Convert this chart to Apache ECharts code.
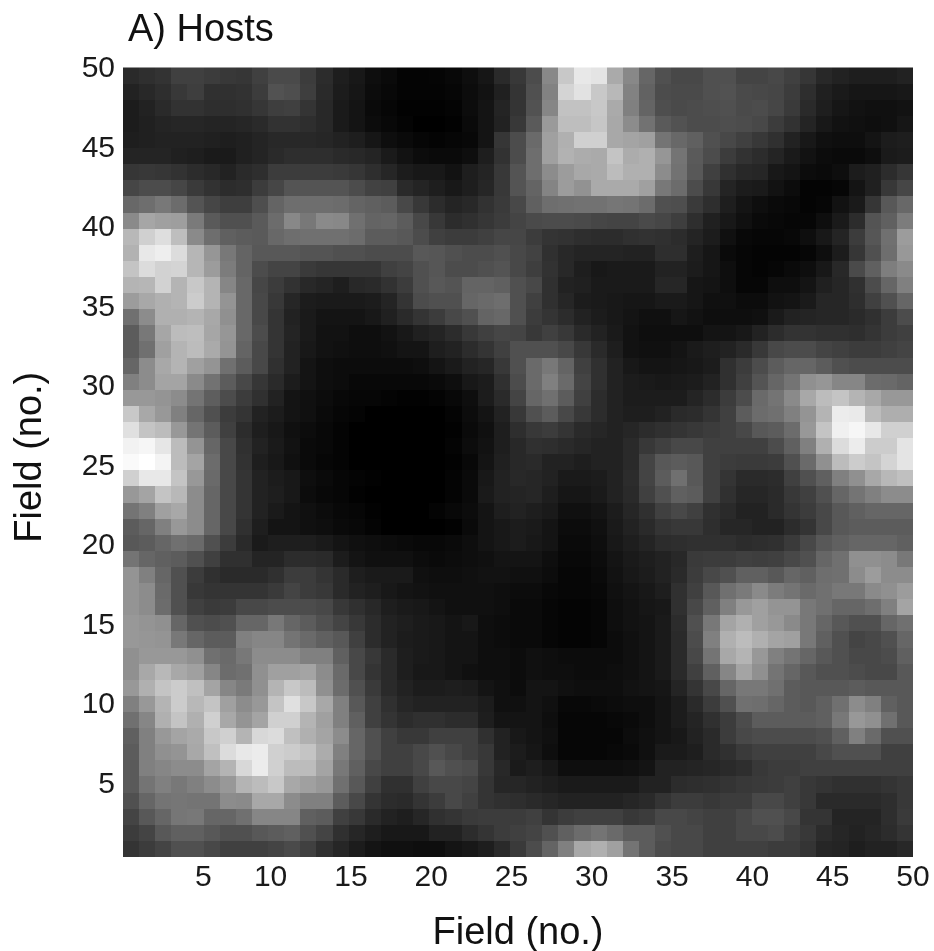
<!DOCTYPE html>
<html><head><meta charset="utf-8">
<style>html,body{margin:0;padding:0;background:#fff}#c{width:934px;height:951px;filter:blur(0.6px)}</style>
<script src="https://cdn.jsdelivr.net/npm/echarts@6/dist/echarts.min.js"></script>
</head><body><div id="c"></div>
<script>
const titleText = 'A) Hosts';
const axisName = 'Field (no.)';
const tickValues = [5,10,15,20,25,30,35,40,45,50];
// gray level of every cell, top row first, left column first
const hosts = [
[42,47,51,64,64,60,56,54,64,74,74,60,44,30,24,14,10,4,4,5,8,14,22,42,56,76,136,200,232,228,170,136,102,80,72,72,80,80,68,68,72,64,54,40,34,30,30,30,34],
[34,40,46,56,62,48,48,50,60,82,78,62,42,28,22,12,8,4,4,4,6,12,18,32,52,80,130,212,226,200,184,130,98,76,74,74,80,82,74,72,70,60,46,32,26,22,22,22,24],
[28,34,42,50,50,46,46,48,54,62,64,52,40,26,20,10,6,2,2,2,4,12,20,36,52,82,134,194,194,200,170,128,100,78,74,76,78,80,74,76,70,58,42,30,22,18,16,16,18],
[28,32,36,38,38,36,36,38,42,50,50,46,40,26,20,12,8,4,0,0,2,10,20,34,56,90,154,190,190,198,168,140,114,90,82,76,76,78,76,72,60,50,36,24,18,16,14,16,22],
[30,32,34,34,34,32,30,32,36,40,40,40,38,34,30,22,14,10,6,4,6,8,20,54,76,106,160,176,208,208,168,164,160,116,104,96,80,72,64,56,48,34,24,16,14,14,20,28,30],
[36,36,36,32,30,26,26,32,36,42,46,46,46,42,40,36,26,18,12,10,10,14,30,50,76,110,160,178,172,170,196,172,176,150,116,90,76,60,50,44,36,26,18,12,10,10,14,26,28],
[54,56,54,50,44,40,34,42,46,60,60,60,60,58,54,46,38,28,24,24,18,30,36,56,84,110,140,156,168,170,188,176,176,140,114,88,64,48,40,38,24,20,12,10,14,28,32,44,54],
[70,76,76,70,58,50,44,46,60,70,84,84,84,84,76,66,64,42,36,30,24,30,38,56,84,100,132,156,146,170,170,170,160,120,108,76,56,36,28,26,18,12,4,4,6,20,32,56,70],
[104,110,120,108,84,70,62,62,78,100,110,110,110,108,100,96,92,72,56,44,36,40,50,58,72,96,110,112,114,114,118,116,108,80,78,58,46,30,20,14,10,8,4,6,18,26,54,88,104],
[138,166,160,158,122,90,80,80,90,108,136,120,138,136,112,100,102,92,72,56,44,48,54,60,68,74,76,76,74,70,68,68,74,70,62,46,32,24,16,10,8,6,6,14,26,44,84,96,124],
[184,208,222,190,138,110,96,92,90,104,110,112,112,112,108,92,92,88,76,64,60,60,64,70,70,60,52,50,46,44,44,48,50,48,44,36,28,16,8,6,6,8,14,24,36,60,86,112,156],
[178,232,238,220,182,150,120,100,88,88,88,84,84,80,80,76,76,76,88,86,80,76,76,80,72,66,48,40,36,36,36,34,34,46,46,30,22,10,6,4,4,4,6,14,28,54,80,110,152],
[196,220,210,212,182,156,124,100,76,68,68,58,54,54,54,54,64,68,80,86,76,76,80,84,72,62,50,40,30,24,26,26,26,34,34,28,22,14,6,4,6,10,14,24,40,74,96,126,138],
[180,182,210,180,200,180,134,104,70,60,50,40,36,30,40,42,50,60,80,88,84,100,100,96,80,72,48,34,32,26,26,26,26,38,38,22,20,14,6,6,14,14,20,32,38,48,76,102,128],
[156,168,176,180,204,180,148,104,72,56,38,28,26,26,26,28,36,52,76,80,80,102,106,110,80,64,48,38,28,26,24,22,22,26,26,22,16,16,12,12,18,20,26,38,38,46,64,80,102],
[112,140,176,176,180,168,144,104,72,52,34,26,20,20,20,24,32,42,52,60,72,80,100,104,80,60,52,44,34,28,24,20,16,16,22,18,14,14,14,16,26,34,36,38,38,42,48,60,76],
[92,120,166,188,190,166,150,104,76,52,36,26,18,18,14,14,18,24,32,36,44,56,64,70,68,56,64,56,42,34,26,18,14,14,14,14,20,20,24,34,44,51,51,48,48,46,52,60,64],
[92,112,160,180,188,170,148,100,72,52,34,24,18,16,14,14,16,20,20,30,34,44,52,64,80,80,80,72,56,42,30,18,16,16,20,26,30,34,42,56,72,76,76,68,64,60,60,64,68],
[102,140,168,180,160,148,112,92,72,48,34,20,14,12,12,12,12,12,14,20,26,34,38,56,80,106,120,100,64,48,34,24,20,20,22,24,28,48,60,76,92,102,102,92,80,76,76,76,76],
[128,140,164,164,138,114,92,72,54,42,28,20,14,12,8,8,8,8,8,10,14,24,28,48,76,106,128,106,68,48,34,28,26,24,26,28,34,48,64,84,102,116,144,150,134,134,108,106,100],
[152,152,148,140,116,94,76,60,48,34,20,16,12,8,6,6,4,2,2,4,8,14,28,42,68,102,112,92,64,44,34,28,28,28,28,36,44,60,76,106,116,138,168,188,196,180,168,152,152],
[200,168,152,128,102,80,60,52,34,28,20,16,10,6,4,0,0,0,0,0,4,12,20,34,56,80,92,72,56,44,34,30,30,34,42,44,52,64,92,108,112,128,148,180,236,234,188,174,174],
[224,196,188,152,116,92,64,44,30,24,16,12,8,4,0,0,0,0,0,0,2,10,16,30,46,56,60,52,42,38,34,38,44,48,52,56,60,64,72,88,92,108,152,196,240,246,232,208,208],
[242,246,230,188,148,102,72,48,34,26,18,10,8,4,0,0,0,0,0,0,4,12,18,30,40,48,46,42,38,34,34,42,56,64,72,72,64,64,64,64,76,96,128,176,220,236,204,204,228],
[250,255,244,188,164,108,72,50,30,24,16,10,6,4,0,0,0,0,0,0,2,8,20,32,40,42,34,34,30,34,34,42,68,88,92,88,64,60,58,58,60,80,106,144,188,204,196,212,228],
[208,232,232,196,152,106,72,52,34,28,24,14,10,6,4,2,0,0,0,0,4,10,24,34,40,38,34,26,26,28,34,44,68,92,112,88,64,52,42,42,44,64,80,96,128,144,168,184,192],
[152,164,196,184,140,102,72,52,34,30,24,12,8,6,2,0,0,0,0,0,4,10,26,34,36,38,30,22,22,26,34,42,64,80,96,92,64,48,38,38,42,56,64,80,102,116,128,140,140],
[116,128,160,168,140,102,72,52,34,26,20,16,12,8,6,2,0,0,0,4,8,12,20,30,34,30,26,16,16,20,28,38,48,64,72,64,48,42,34,34,42,52,60,72,88,96,102,102,102],
[92,102,128,152,140,102,72,48,30,20,20,16,14,10,8,4,0,0,0,0,2,10,20,24,28,26,20,12,12,16,26,34,42,52,56,56,46,38,38,34,34,44,52,72,88,92,92,92,92],
[88,92,102,112,106,80,60,42,26,30,30,30,26,20,16,14,12,10,8,8,10,14,20,24,28,24,20,10,10,14,24,30,36,44,46,48,48,48,44,46,48,58,72,88,96,102,102,102,96],
[116,102,96,92,80,64,48,48,36,36,44,44,42,28,20,16,16,16,12,10,12,14,16,20,20,20,14,8,8,12,20,26,30,34,40,58,60,60,64,62,64,72,80,102,112,144,144,140,120],
[148,128,102,80,60,48,42,42,42,48,60,60,52,42,30,26,26,26,16,14,14,16,18,18,16,16,12,6,6,10,18,24,28,34,42,60,72,80,96,96,88,102,96,110,112,140,156,140,140],
[148,140,106,80,56,52,52,52,52,58,68,60,56,42,34,30,24,20,18,16,16,16,16,14,12,12,8,6,6,8,16,20,24,30,48,64,88,112,122,138,124,116,106,112,120,120,138,144,156],
[148,140,108,80,64,58,60,72,72,76,76,76,72,56,48,40,30,26,24,20,16,16,16,14,10,10,6,4,4,6,14,18,22,24,48,72,96,128,152,160,148,148,120,112,102,102,110,128,164],
[152,148,144,102,80,76,80,102,102,120,102,92,80,68,56,44,34,30,26,24,20,24,14,12,10,10,6,4,4,6,14,18,20,26,44,80,120,164,176,160,152,138,120,102,88,80,80,102,112],
[152,150,148,120,102,92,92,128,134,134,116,106,96,88,64,44,34,28,26,24,20,20,14,12,10,10,6,4,4,6,12,16,20,26,42,76,128,176,188,176,164,160,120,96,80,68,72,80,102],
[144,152,152,152,144,112,106,120,140,140,140,128,128,96,72,56,42,30,26,24,20,20,14,14,12,16,14,12,12,12,12,16,20,26,42,72,116,168,180,152,128,116,102,88,80,72,72,76,96],
[144,168,184,168,160,134,108,112,144,160,160,164,140,106,72,52,42,30,24,24,20,16,14,14,12,16,14,14,12,12,14,16,20,26,42,64,96,134,164,144,116,102,88,80,80,76,72,72,88],
[152,176,196,204,192,164,134,122,144,180,200,188,144,108,80,58,42,34,28,28,30,28,20,16,12,20,20,16,14,14,14,18,20,22,36,52,72,102,120,120,112,92,88,88,88,92,88,88,88],
[128,152,180,204,184,196,160,140,152,196,224,200,168,128,88,64,48,38,34,34,34,34,28,16,16,20,16,8,8,10,12,14,14,20,28,42,60,80,112,110,102,92,88,96,112,140,128,96,88],
[112,134,176,196,176,208,168,148,164,208,208,180,160,128,96,64,52,44,48,48,44,44,30,20,20,20,14,6,6,6,8,10,14,20,28,36,48,60,76,92,92,92,92,96,120,152,144,112,88],
[96,128,152,164,170,200,208,180,216,220,192,176,164,140,102,80,64,56,56,64,64,64,48,34,24,20,16,6,6,6,6,12,16,20,24,34,42,60,72,76,76,76,76,80,96,128,106,80,80],
[92,128,144,148,168,192,220,232,236,208,204,196,172,128,102,80,64,64,72,80,72,64,56,34,28,22,14,6,6,6,8,10,16,26,26,30,42,48,58,64,64,64,64,72,80,80,80,64,64],
[90,128,134,140,140,164,180,216,236,208,188,188,164,120,96,72,64,64,72,88,80,76,56,40,26,30,24,14,14,14,14,16,20,34,34,36,38,42,46,56,60,60,64,64,64,64,64,64,64],
[90,116,128,120,128,140,152,180,188,200,168,160,152,112,88,64,48,48,64,72,72,68,52,38,38,34,30,26,26,26,26,26,34,34,44,46,48,52,56,58,60,64,56,52,48,48,48,52,56],
[80,102,116,118,116,116,140,138,168,168,140,128,128,92,72,52,44,42,52,60,72,64,52,48,46,42,38,34,34,34,34,38,42,52,60,60,56,60,60,72,72,64,56,42,42,42,42,46,56],
[68,88,102,118,120,102,102,112,134,134,134,96,92,64,56,42,34,30,38,48,52,58,60,60,60,64,52,60,64,64,64,56,60,72,72,68,64,64,72,80,80,72,52,52,36,36,36,46,58],
[60,68,88,96,96,88,80,80,88,92,96,80,68,48,38,30,24,24,24,34,34,44,52,60,64,68,80,96,108,116,106,92,92,80,72,72,64,64,72,72,76,64,56,44,38,34,38,44,52],
[52,60,68,80,80,72,64,64,64,68,74,64,48,38,28,20,16,16,14,14,20,24,30,42,58,76,100,128,168,176,160,116,92,76,72,72,64,64,64,64,60,60,52,38,36,30,34,34,40]
];
hosts.forEach((r,i)=>{ if(r.length!==49) throw new Error('row '+i+' has '+r.length); });
if(hosts.length!==49) throw new Error('rows '+hosts.length);

const xMin=0.81, xMax=50, yMin=0.45, yMax=50.1;
const cells=[];
hosts.forEach((row,r)=>row.forEach((v,c)=>cells.push([c,48-r,v])));
const font='"Liberation Sans",Arial,sans-serif';
const chart=echarts.init(document.getElementById('c'),null,{renderer:'canvas'});
chart.setOption({
  animation:false,
  backgroundColor:'#fff',
  title:{text:titleText,left:123,top:7,textStyle:{fontFamily:font,fontSize:38,fontWeight:'normal',color:'#111'}},
  grid:{left:123,top:67.5,width:790,height:789.5,containLabel:false,outerBoundsMode:'none'},
  visualMap:{show:false,min:0,max:255,dimension:2,inRange:{color:['#000000','#ffffff']}},
  xAxis:{type:'value',min:xMin,max:xMax,
    name:axisName,nameLocation:'middle',nameGap:58,nameTextStyle:{fontFamily:font,fontSize:38,color:'#111'},
    axisLine:{show:false},axisTick:{show:false},splitLine:{show:false},
    axisLabel:{customValues:tickValues,margin:6,fontFamily:font,fontSize:30,color:'#1a1a1a',showMinLabel:true,showMaxLabel:true,
      formatter:v=>v===5?'{p|5}':String(v),rich:{p:{padding:[0,0,0,26],fontFamily:font,fontSize:30,color:'#1a1a1a'}}}},
  yAxis:{type:'value',min:yMin,max:yMax,
    name:axisName,nameLocation:'middle',nameGap:73,nameRotate:90,nameTextStyle:{fontFamily:font,fontSize:38,color:'#111',padding:[0,0,0,10]},
    axisLine:{show:false},axisTick:{show:false},splitLine:{show:false},
    axisLabel:{customValues:tickValues,margin:8,fontFamily:font,fontSize:30,color:'#1a1a1a',showMinLabel:true,showMaxLabel:true}},
  series:[{type:'custom',coordinateSystem:'cartesian2d',data:cells,encode:{x:0,y:1},clip:true,silent:true,
    renderItem(params,api){
      const c=api.value(0),r=api.value(1);
      const dx=(xMax-xMin)/49,dy=(yMax-yMin)/49;
      const a=api.coord([xMin+c*dx,yMin+(r+1)*dy]);
      const b=api.coord([xMin+(c+1)*dx,yMin+r*dy]);
      const x0=Math.round(a[0]),y0=Math.round(a[1]),x1=Math.round(b[0]),y1=Math.round(b[1]);
      return {type:'rect',shape:{x:x0,y:y0,width:x1-x0,height:y1-y0},style:{fill:api.visual('color')}};
    }}]
});
</script></body></html>
